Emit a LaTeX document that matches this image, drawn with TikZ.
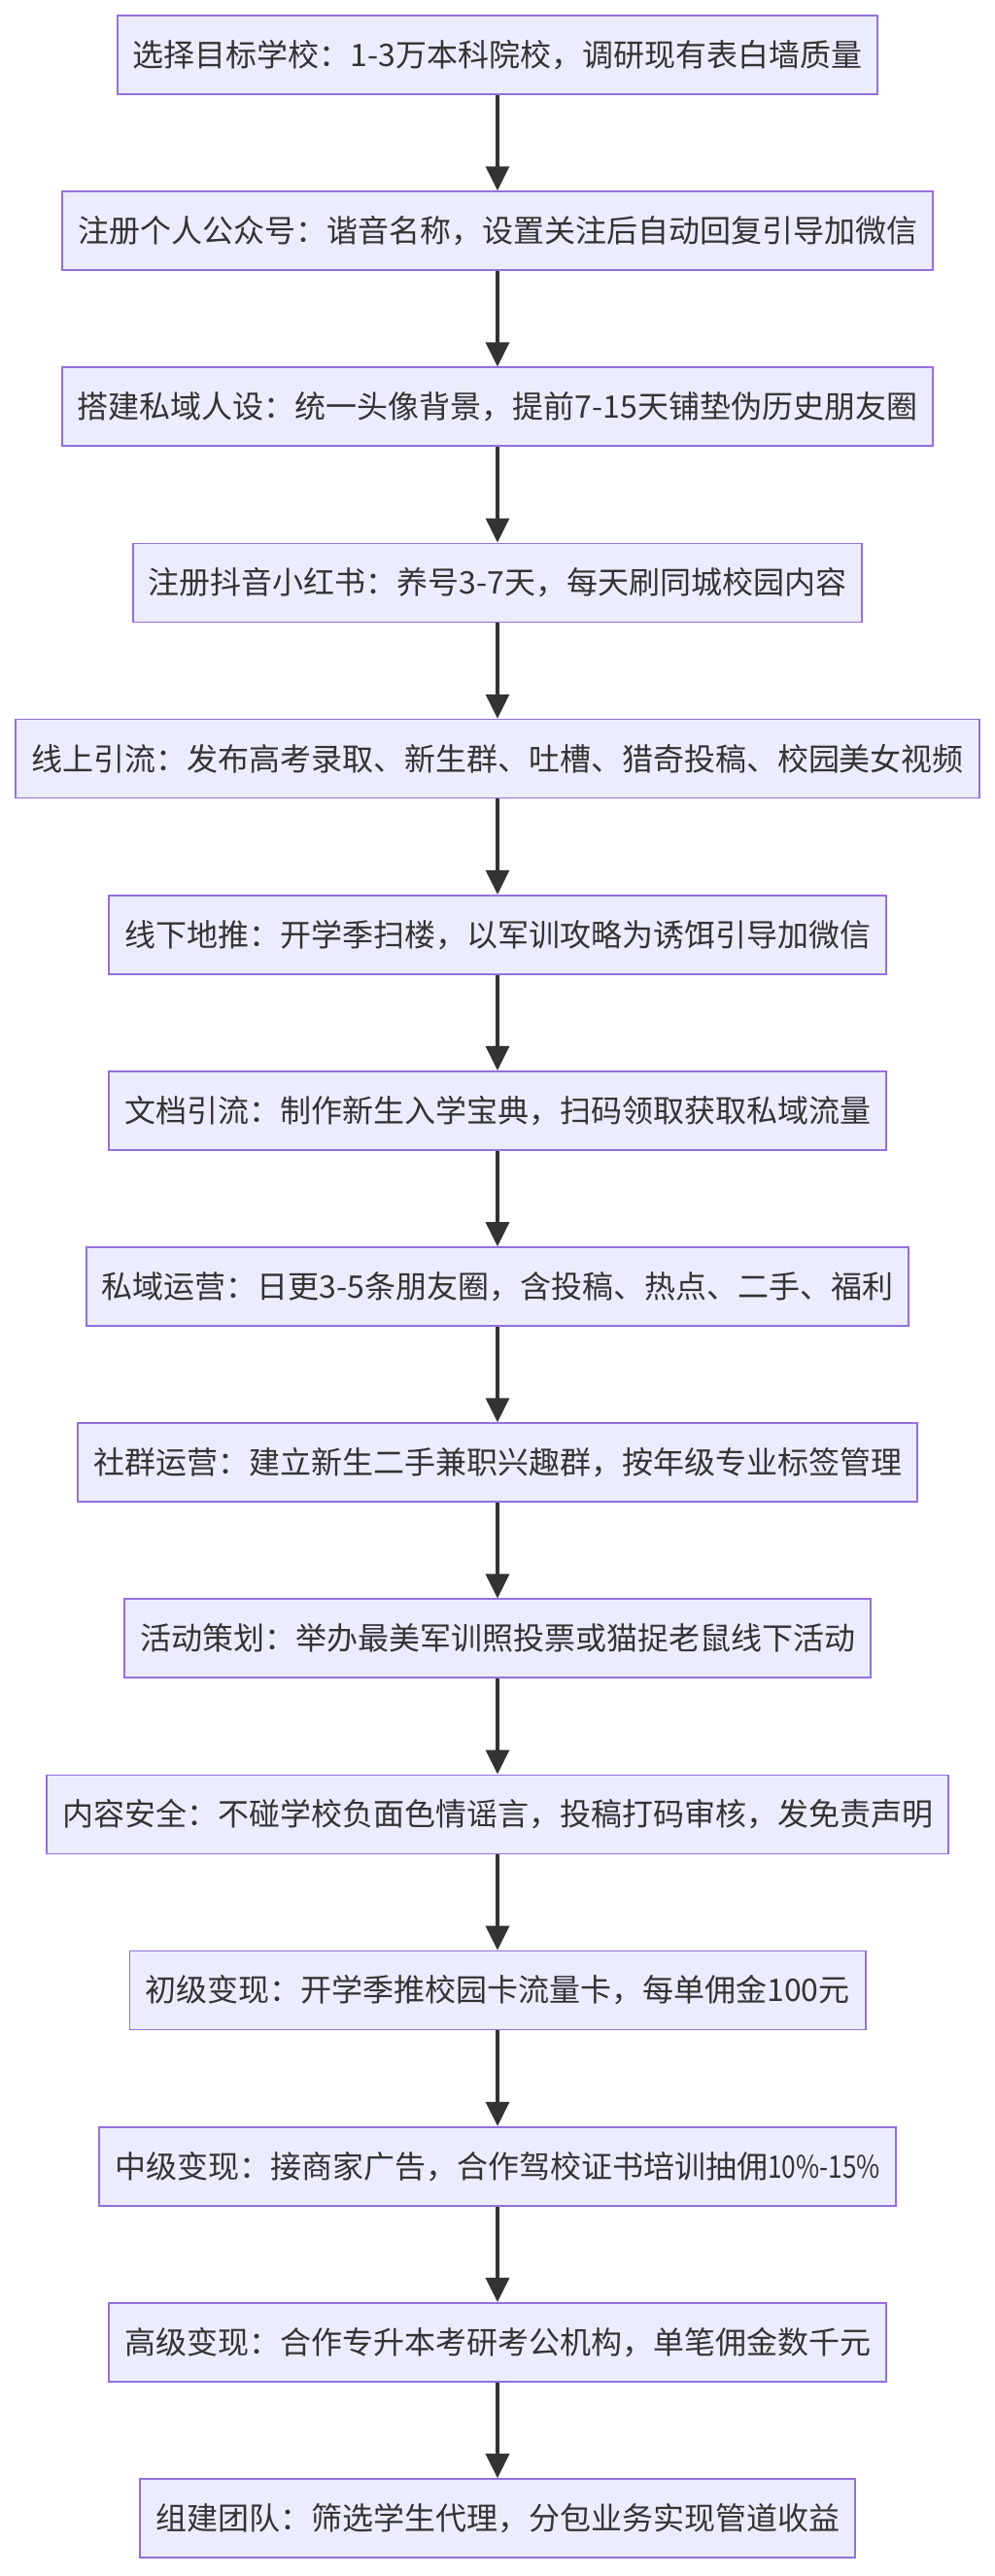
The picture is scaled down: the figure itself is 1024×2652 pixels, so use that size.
\documentclass[tikz,border=0pt]{standalone}
\usepackage{fontspec}
\usepackage{graphicx}
\setmainfont{Noto Sans CJK SC}
\usetikzlibrary{arrows.meta}
\definecolor{nodefill}{HTML}{ECECFF}
\definecolor{nodeborder}{HTML}{9370DB}
\definecolor{linecol}{HTML}{333333}
\tikzset{
  stepbox/.style={draw=nodeborder, fill=nodefill, line width=1.7pt,
    minimum height=81pt, inner xsep=16pt, inner ysep=0pt,
    text=linecol, font=\fontsize{32pt}{38pt}\selectfont, anchor=center},
  flowarrow/.style={draw=linecol, line width=3.2pt,
    -{Triangle[width=24pt,length=25pt]}}
}
\begin{document}
\begin{tikzpicture}[x=1pt,y=-1pt]
\useasboundingbox[fill=white] (0,0) rectangle (1024,2652);
\node[stepbox] (n1) at (512,56.5) {选择目标学校：1-3万本科院校，调研现有表白墙质量};
\node[stepbox] (n2) at (512,237.6) {注册个人公众号：谐音名称，设置关注后自动回复引导加微信};
\node[stepbox] (n3) at (512,418.8) {搭建私域人设：统一头像背景，提前7-15天铺垫伪历史朋友圈};
\node[stepbox] (n4) at (512,599.9) {注册抖音小红书：养号3-7天，每天刷同城校园内容};
\node[stepbox] (n5) at (512,781.1) {线上引流：发布高考录取、新生群、吐槽、猎奇投稿、校园美女视频};
\node[stepbox] (n6) at (512,962.2) {线下地推：开学季扫楼，以军训攻略为诱饵引导加微信};
\node[stepbox] (n7) at (512,1143.3) {文档引流：制作新生入学宝典，扫码领取获取私域流量};
\node[stepbox] (n8) at (512,1324.5) {私域运营：日更3-5条朋友圈，含投稿、热点、二手、福利};
\node[stepbox] (n9) at (512,1505.6) {社群运营：建立新生二手兼职兴趣群，按年级专业标签管理};
\node[stepbox] (n10) at (512,1686.8) {活动策划：举办最美军训照投票或猫捉老鼠线下活动};
\node[stepbox] (n11) at (512,1867.9) {内容安全：不碰学校负面色情谣言，投稿打码审核，发免责声明};
\node[stepbox] (n12) at (512,2049.0) {初级变现：开学季推校园卡流量卡，每单佣金100元};
\node[stepbox] (n13) at (512,2230.2) {中级变现：接商家广告，合作驾校证书培训抽佣\scalebox{0.82}[1]{10\%-15\%}};
\node[stepbox] (n14) at (512,2411.3) {高级变现：合作专升本考研考公机构，单笔佣金数千元};
\node[stepbox] (n15) at (512,2592.5) {组建团队：筛选学生代理，分包业务实现管道收益};
\foreach \a/\b in {n1/n2,n2/n3,n3/n4,n4/n5,n5/n6,n6/n7,n7/n8,n8/n9,n9/n10,n10/n11,n11/n12,n12/n13,n13/n14,n14/n15}
  \draw[flowarrow] (\a.south) -- (\b.north);
\end{tikzpicture}
\end{document}
